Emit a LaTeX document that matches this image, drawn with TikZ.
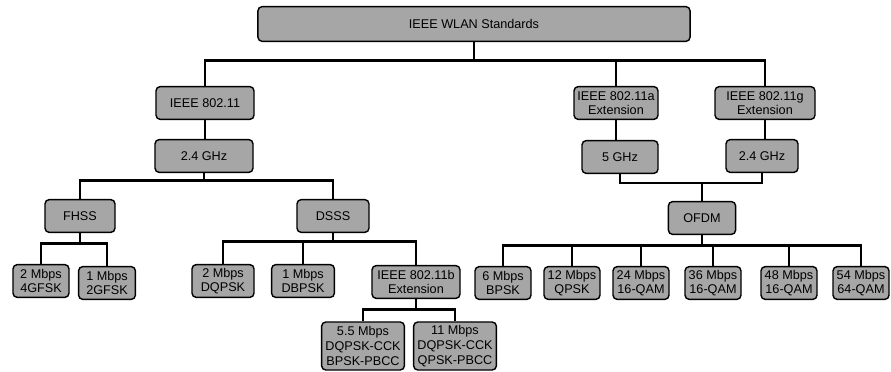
\documentclass[tikz,border=0pt]{standalone}
\usepackage{fontspec}
\setmainfont{Liberation Sans}
\begin{document}
\begin{tikzpicture}[x=0.025cm, y=-0.025cm,
    box/.style={draw, line width=1pt, fill=black!35, rounded corners=3pt,
      align=center, inner sep=0pt, minimum height=0.82cm,
      font=\fontsize{9}{10.4}\selectfont},
    link/.style={line width=2pt}]
  \useasboundingbox (0,0) rectangle (891,372);
  % top level
  \node[box, minimum width=10.8cm, minimum height=0.87cm] (root) at (474,24) {IEEE WLAN Standards};
  \node[box, minimum width=2.45cm] (std) at (205,103) {IEEE 802.11};
  \node[box, minimum width=2.1cm] (stda) at (616,103) {IEEE 802.11a\\Extension};
  \node[box, minimum width=2.5cm] (stdg) at (765,103) {IEEE 802.11g\\Extension};
  % bands
  \node[box, minimum width=2.45cm] (bandA) at (204,156) {2.4 GHz};
  \node[box, minimum width=1.9cm] (bandB) at (620,157) {5 GHz};
  \node[box, minimum width=1.8cm] (bandC) at (762,156) {2.4 GHz};
  % spreading
  \node[box, minimum width=1.75cm] (fhss) at (80,216) {FHSS};
  \node[box, minimum width=1.8cm] (dsss) at (333,216) {DSSS};
  \node[box, minimum width=1.68cm] (ofdm) at (702,218) {OFDM};
  % rates
  \node[box, minimum width=1.4cm] (fA) at (41,281) {2 Mbps\\4GFSK};
  \node[box, minimum width=1.42cm] (fB) at (107,283) {1 Mbps\\2GFSK};
  \node[box, minimum width=1.55cm] (dA) at (223,281) {2 Mbps\\DQPSK};
  \node[box, minimum width=1.57cm] (dB) at (303,281) {1 Mbps\\DBPSK};
  \node[box, minimum width=2.2cm] (stdb) at (416,282) {IEEE 802.11b\\Extension};
  \node[box, minimum width=2.07cm, minimum height=1.2cm] (bA) at (363,346) {5.5 Mbps\\DQPSK-CCK\\BPSK-PBCC};
  \node[box, minimum width=2.07cm, minimum height=1.2cm] (bB) at (455,346) {11 Mbps\\DQPSK-CCK\\QPSK-PBCC};
  \node[box, minimum width=1.4cm] (oA) at (503,283) {6 Mbps\\BPSK};
  \node[box, minimum width=1.4cm] (oB) at (572,283) {12 Mbps\\QPSK};
  \node[box, minimum width=1.4cm] (oC) at (641,283) {24 Mbps\\16-QAM};
  \node[box, minimum width=1.4cm] (oD) at (713,283) {36 Mbps\\16-QAM};
  \node[box, minimum width=1.4cm] (oE) at (789,283) {48 Mbps\\16-QAM};
  \node[box, minimum width=1.4cm] (oF) at (861,283) {54 Mbps\\64-QAM};
  % connectors
  \draw[link] (root.south) -- ++(0,18) -| (std.north);
  \draw[link] (root.south) -- ++(0,18) -| (stda.north);
  \draw[link] (root.south) -- ++(0,18) -| (stdg.north);
  \draw[link] (std.south) -- (bandA.north -| std.south);
  \draw[link] (stda.south) -- (bandB.north -| stda.south);
  \draw[link] (stdg.south) -- (bandC.north -| stdg.south);
  \draw[link] (bandA.south) -- ++(0,7) -| (fhss.north);
  \draw[link] (bandA.south) -- ++(0,7) -| (dsss.north);
  \draw[link] (bandB.south) |- (ofdm.north |- 0,183) -| (bandC.south);
  \draw[link] (ofdm.north |- 0,183) -- (ofdm.north);
  \draw[link] (fhss.south) -- ++(0,10) -| (fA.north);
  \draw[link] (fhss.south) -- ++(0,10) -| (fB.north);
  \draw[link] (dsss.south) -- ++(0,8) -| (dA.north);
  \draw[link] (dsss.south) -- ++(0,8) -| (dB.north);
  \draw[link] (dsss.south) -- ++(0,8) -| (stdb.north);
  \draw[link] (stdb.south) -- ++(0,10) -| (bA.north);
  \draw[link] (stdb.south) -- ++(0,10) -| (bB.north);
  \foreach \r in {oA,oB,oC,oD,oE,oF}
    \draw[link] (ofdm.south) -- ++(0,10) -| (\r.north);
\end{tikzpicture}
\end{document}
